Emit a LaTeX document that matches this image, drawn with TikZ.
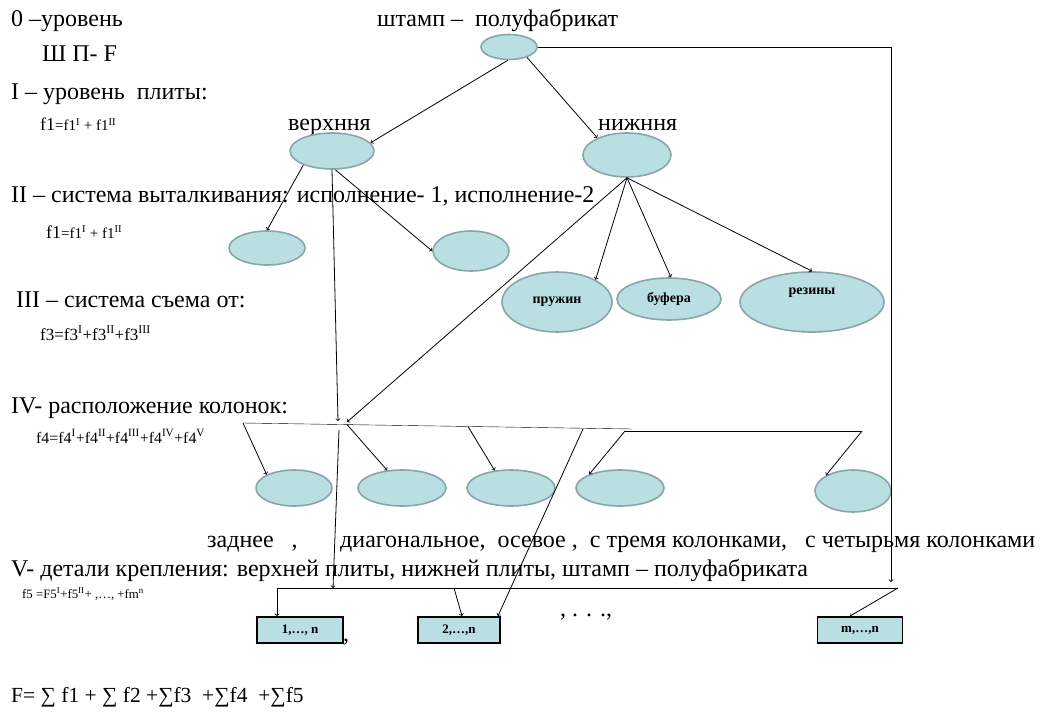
\documentclass[tikz,border=0pt]{standalone}
\usepackage{fontspec}
\setmainfont{Liberation Serif}
\usetikzlibrary{shapes.geometric}
\definecolor{ovalfill}{RGB}{185,223,227}
\definecolor{ovalline}{RGB}{137,165,168}
\newcommand{\rn}[1]{\textsuperscript{#1}}

\begin{document}
\begin{tikzpicture}[x=1pt,y=-1pt,
    oval/.style={ellipse,draw=ovalline,line width=1.6pt,fill=ovalfill,inner sep=0pt,
      font=\fontsize{14}{16}\selectfont\bfseries},
    plate/.style={rectangle,draw,line width=1.8pt,fill=ovalfill,inner sep=0pt,
      minimum height=26pt,font=\fontsize{13}{15}\selectfont\bfseries},
    lvl/.style={anchor=base west,inner sep=0pt,font=\fontsize{24}{28}\selectfont},
    frm/.style={anchor=base west,inner sep=0pt,font=\fontsize{15}{17}\selectfont},
    link/.style={->,line width=0.8pt}]

      \useasboundingbox (0,0) rectangle (1046,722);

      % left column of levels
      \node[lvl] (lev0) at (11,27) {0 –уровень};
      \node[lvl] (lev0b) at (42,62) {Ш П- F};
      \node[lvl] (lev1) at (11,100) {I – уровень \ плиты:};
      \node[frm] (frm1) at (40,131) {{\fontsize{18}{20}\selectfont f1}=f1\rn{I} + f1\rn{II}};
      \node[lvl] (lev2) at (11,202) {II – система выталкивания: исполнение- 1, исполнение-2};
      \node[frm] (frm2) at (46,238) {{\fontsize{18}{20}\selectfont f1}=f1\rn{I} + f1\rn{II}};
      \node[lvl] (lev3) at (16,307) {III – система съема от:};
      \node[frm,font=\fontsize{17}{19}\selectfont] (frm3) at (40,340) {f3=f3\rn{I}+f3\rn{II}+f3\rn{III}};
      \node[lvl] (lev4) at (11,413) {IV- расположение колонок:};
      \node[frm,font=\fontsize{15.9}{18}\selectfont] (frm4) at (36,443) {f4=f4\rn{I}+f4\rn{II}+f4\rn{III}+f4\rn{IV}+f4\rn{V}};
      \node[lvl] (kind1) at (207,547) {заднее\ \ \ ,};
      \node[lvl] (kind2) at (340,547) {диагональное, \ осевое , \ с тремя колонками, \ \ с четырьмя колонками};
      \node[lvl] (lev5) at (11,576) {V- детали крепления: верхней плиты, нижней плиты, штамп – полуфабриката};
      \node[frm,font=\fontsize{12.8}{15}\selectfont] (frm5) at (22,598) {f5 =F5\rn{I}+f5\rn{II}+ ,…, +fm\rn{n}};
      \node[lvl,font=\fontsize{21.5}{26}\selectfont] (total) at (11,702) {F= ∑ f1 + ∑ f2 +∑f3 \ +∑f4 \ +∑f5};

      % tree
      \node[lvl] (stamplbl) at (377,27) {штамп – \ полуфабрикат};
      \node[oval,minimum width=56pt,minimum height=25pt] (stamp) at (509,47) {};
      \node[lvl] (upperlbl) at (288,131) {верхння};
      \node[oval,minimum width=84pt,minimum height=36pt] (upper) at (332,151) {};
      \node[lvl] (lowerlbl) at (598,131) {нижння};
      \node[oval,minimum width=88pt,minimum height=44pt] (lower) at (627,155) {};

      \node[oval,minimum width=76pt,minimum height=34pt] (ejectA) at (267,248) {};
      \node[oval,minimum width=76pt,minimum height=40pt] (ejectB) at (471,251) {};

      \node[oval,minimum width=110pt,minimum height=60pt] (spring) at (557,302) {пружин};
      \node[oval,minimum width=104pt,minimum height=42pt] (buffer) at (669,299) {буфера};
      \node[oval,minimum width=144pt,minimum height=60pt] (rubber) at (812,302) {};
      \node[inner sep=0pt,font=\fontsize{14}{16}\selectfont\bfseries] (rubberlbl) at (812,293) {резины};

      \node[oval,minimum width=76pt,minimum height=36pt] (col1) at (294,488) {};
      \node[oval,minimum width=88pt,minimum height=36pt] (col2) at (402,488) {};
      \node[oval,minimum width=88pt,minimum height=36pt] (col3) at (511,488) {};
      \node[oval,minimum width=88pt,minimum height=36pt] (col4) at (620,488) {};
      \node[oval,minimum width=76pt,minimum height=42pt] (col5) at (853,491) {};

      \node[plate,minimum width=86pt] (plate1) at (300,630) {1,…, n};
      \node[plate,minimum width=82pt] (plate2) at (459,630) {2,…,n};
      \node[plate,minimum width=85pt] (plate3) at (860,630) {m,…,n};
      \node[lvl] (comma1) at (343,641) {,};
      \node[lvl] (dots) at (560,616) {, . . .,};

      \coordinate (stampturn) at (891,47);
      \coordinate (stampdrop) at (891,582);
      \coordinate (hubA) at (338,421);
      \coordinate (hubB) at (347,422);
      \coordinate (barL) at (243,423);
      \coordinate (barM) at (347,424.6);
      \coordinate (barC) at (468,426.5);
      \coordinate (barK) at (632,429);
      \coordinate (barK2) at (625,431);
      \coordinate (barR) at (862,431);
      \coordinate (coldrop) at (339,430);
      \coordinate (colslant) at (583,429);
      \coordinate (fixL) at (277,588);
      \coordinate (fixA) at (333,588);
      \coordinate (fixB) at (454,588);
      \coordinate (fixR) at (898,588);

      \draw[link] (stamp.265) -- (upper.12);
      \draw[link] (stamp.-30) -- (lower.150);
      \draw[link] (stamp.east) -- (stampturn) -- (stampdrop);

      \draw[link] (upper.206) -- (ejectA.north);
      \draw[link] (upper.-80) -- (ejectB.west);
      \draw[link] (upper.south) -- (hubA);

      \draw[link] (lower.south) -- (spring.30);
      \draw[link] (lower.south) -- (buffer.85);
      \draw[link] (lower.south) -- (rubber.north);
      \draw[link] (lower.south) -- (hubB);

      \draw (barL) -- (barK);
      \draw (barK2) -- (barR);
      \draw[link] (barL) -- (col1.154);
      \draw[link] (barM) -- (col2.130);
      \draw[link] (barC) -- (col3.133);
      \draw[link] (barK2) -- (col4.156);
      \draw[link] (barR) -- (col5.150);

      \draw[link] (coldrop) -- (fixA);
      \draw[link] (colslant) -- ([xshift=-3pt]plate2.north east);

      \draw[link] (fixR) -- (fixL) -- (fixL |- plate1.north);
      \draw[link] (fixB) -- ([xshift=3pt]plate2.north);
      \draw[link] (fixR) -- ([xshift=-10pt]plate3.north);

    \end{tikzpicture}
\end{document}
